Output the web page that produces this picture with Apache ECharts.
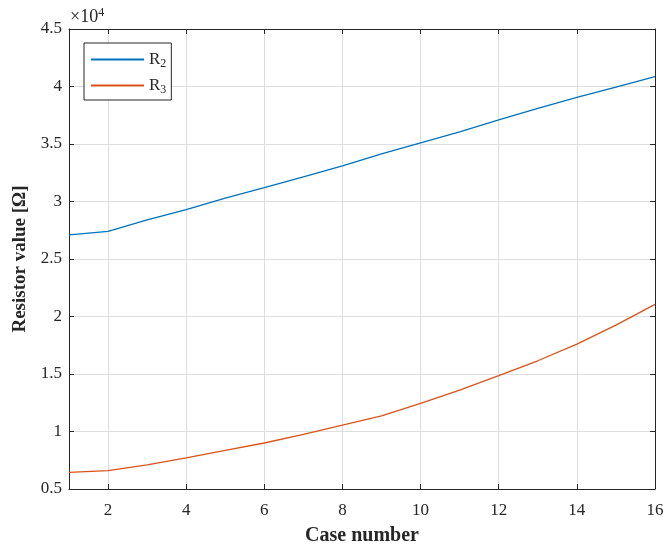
<!DOCTYPE html>
<html>
<head>
<meta charset="utf-8">
<script src="https://cdn.jsdelivr.net/npm/echarts@6/dist/echarts.min.js"></script>
<style>
  html, body { margin: 0; padding: 0; background: #fff; }
  #chart { width: 668px; height: 551px; }
</style>
</head>
<body>
<div id="chart"></div>
<script>
// Case numbers on the x axis
const cases = [1, 2, 3, 4, 5, 6, 7, 8, 9, 10, 11, 12, 13, 14, 15, 16];
// Resistor values in ohms
const r2Values = [27100, 27400, 28400, 29300, 30300, 31200, 32150, 33100, 34150, 35100, 36050, 37100, 38100, 39050, 39950, 40850];
const r3Values = [6450, 6600, 7100, 7700, 8350, 9000, 9750, 10550, 11350, 12450, 13600, 14850, 16150, 17600, 19250, 21050];
// Tick positions
const xTicks = [2, 4, 6, 8, 10, 12, 14, 16];
const yScale = 1e4;

const FONT = '"Liberation Serif", "Times New Roman", serif';
const INK = '#262626';

const toPairs = (vals) => cases.map((c, i) => [c, vals[i]]);

const chart = echarts.init(document.getElementById('chart'));

const baseX = {
  type: 'value', min: 1, max: 16,
  axisLine: { show: true, onZero: false, lineStyle: { color: INK, width: 1 } },
  axisTick: { show: true, inside: true, length: 5, customValues: xTicks, lineStyle: { color: INK } },
  splitLine: { show: false }
};
const baseY = {
  type: 'value', min: 5000, max: 45000, interval: 5000,
  axisLine: { show: true, onZero: false, lineStyle: { color: INK, width: 1 } },
  axisTick: { show: true, inside: true, length: 5, lineStyle: { color: INK } },
  splitLine: { show: false }
};

chart.setOption({
  animation: false,
  backgroundColor: '#fff',
  grid: { left: 69, right: 13, top: 29, bottom: 60, containLabel: false },
  xAxis: [
    Object.assign({}, baseX, {
      position: 'bottom',
      name: 'Case number',
      nameLocation: 'middle',
      nameGap: 37,
      nameTextStyle: { fontFamily: FONT, fontSize: 20, fontWeight: 'bold', color: INK },
      axisLabel: { show: true, customValues: xTicks, fontFamily: FONT, fontSize: 17, color: INK, margin: 13 },
      splitLine: { show: true, lineStyle: { color: '#dedede', width: 1 } }
    }),
    Object.assign({}, baseX, { position: 'top', axisLabel: { show: false } })
  ],
  yAxis: [
    Object.assign({}, baseY, {
      position: 'left',
      name: 'Resistor value [Ω]',
      nameLocation: 'middle',
      nameGap: 36,
      nameRotate: 90,
      nameTextStyle: { fontFamily: FONT, fontSize: 19, fontWeight: 'bold', color: INK },
      axisLabel: {
        show: true, fontFamily: FONT, fontSize: 17, color: INK, margin: 7,
        formatter: (v) => String(+(v / yScale).toFixed(1))
      },
      splitLine: { show: true, lineStyle: { color: '#dedede', width: 1 } }
    }),
    Object.assign({}, baseY, { position: 'right', axisLabel: { show: false } })
  ],
  legend: {
    left: 84, top: 43,
    orient: 'vertical',
    backgroundColor: '#fff',
    borderColor: INK,
    borderWidth: 1,
    borderRadius: 0,
    padding: [8, 5, 4, 6],
    itemGap: 7,
    itemWidth: 53,
    itemHeight: 14,
    itemStyle: { opacity: 0 },
    data: ['R2', 'R3'],
    formatter: (name) => '{m|R}{s|' + name.slice(1) + '}',
    textStyle: {
      rich: {
        m: { fontFamily: FONT, fontSize: 17, color: INK },
        s: { fontFamily: FONT, fontSize: 12, color: INK, verticalAlign: 'bottom', padding: [9, 0, 0, 0] }
      }
    }
  },
  graphic: [{
    type: 'text', left: 70, top: 7,
    style: {
      text: '{a|×10}{b|4}',
      rich: {
        a: { fontFamily: FONT, fontSize: 18, fill: INK },
        b: { fontFamily: FONT, fontSize: 12, fill: INK, verticalAlign: 'top', padding: [0, 0, 9, 0] }
      }
    }
  }],
  series: [
    {
      name: 'R2', type: 'line', xAxisIndex: 0, yAxisIndex: 0,
      data: toPairs(r2Values), symbol: 'none', smooth: false,
      lineStyle: { color: '#0072BD', width: 1.3 }, itemStyle: { color: '#0072BD' }
    },
    {
      name: 'R3', type: 'line', xAxisIndex: 0, yAxisIndex: 0,
      data: toPairs(r3Values), symbol: 'none', smooth: false,
      lineStyle: { color: '#D95319', width: 1.3 }, itemStyle: { color: '#D95319' }
    }
  ]
});
</script>
</body>
</html>
